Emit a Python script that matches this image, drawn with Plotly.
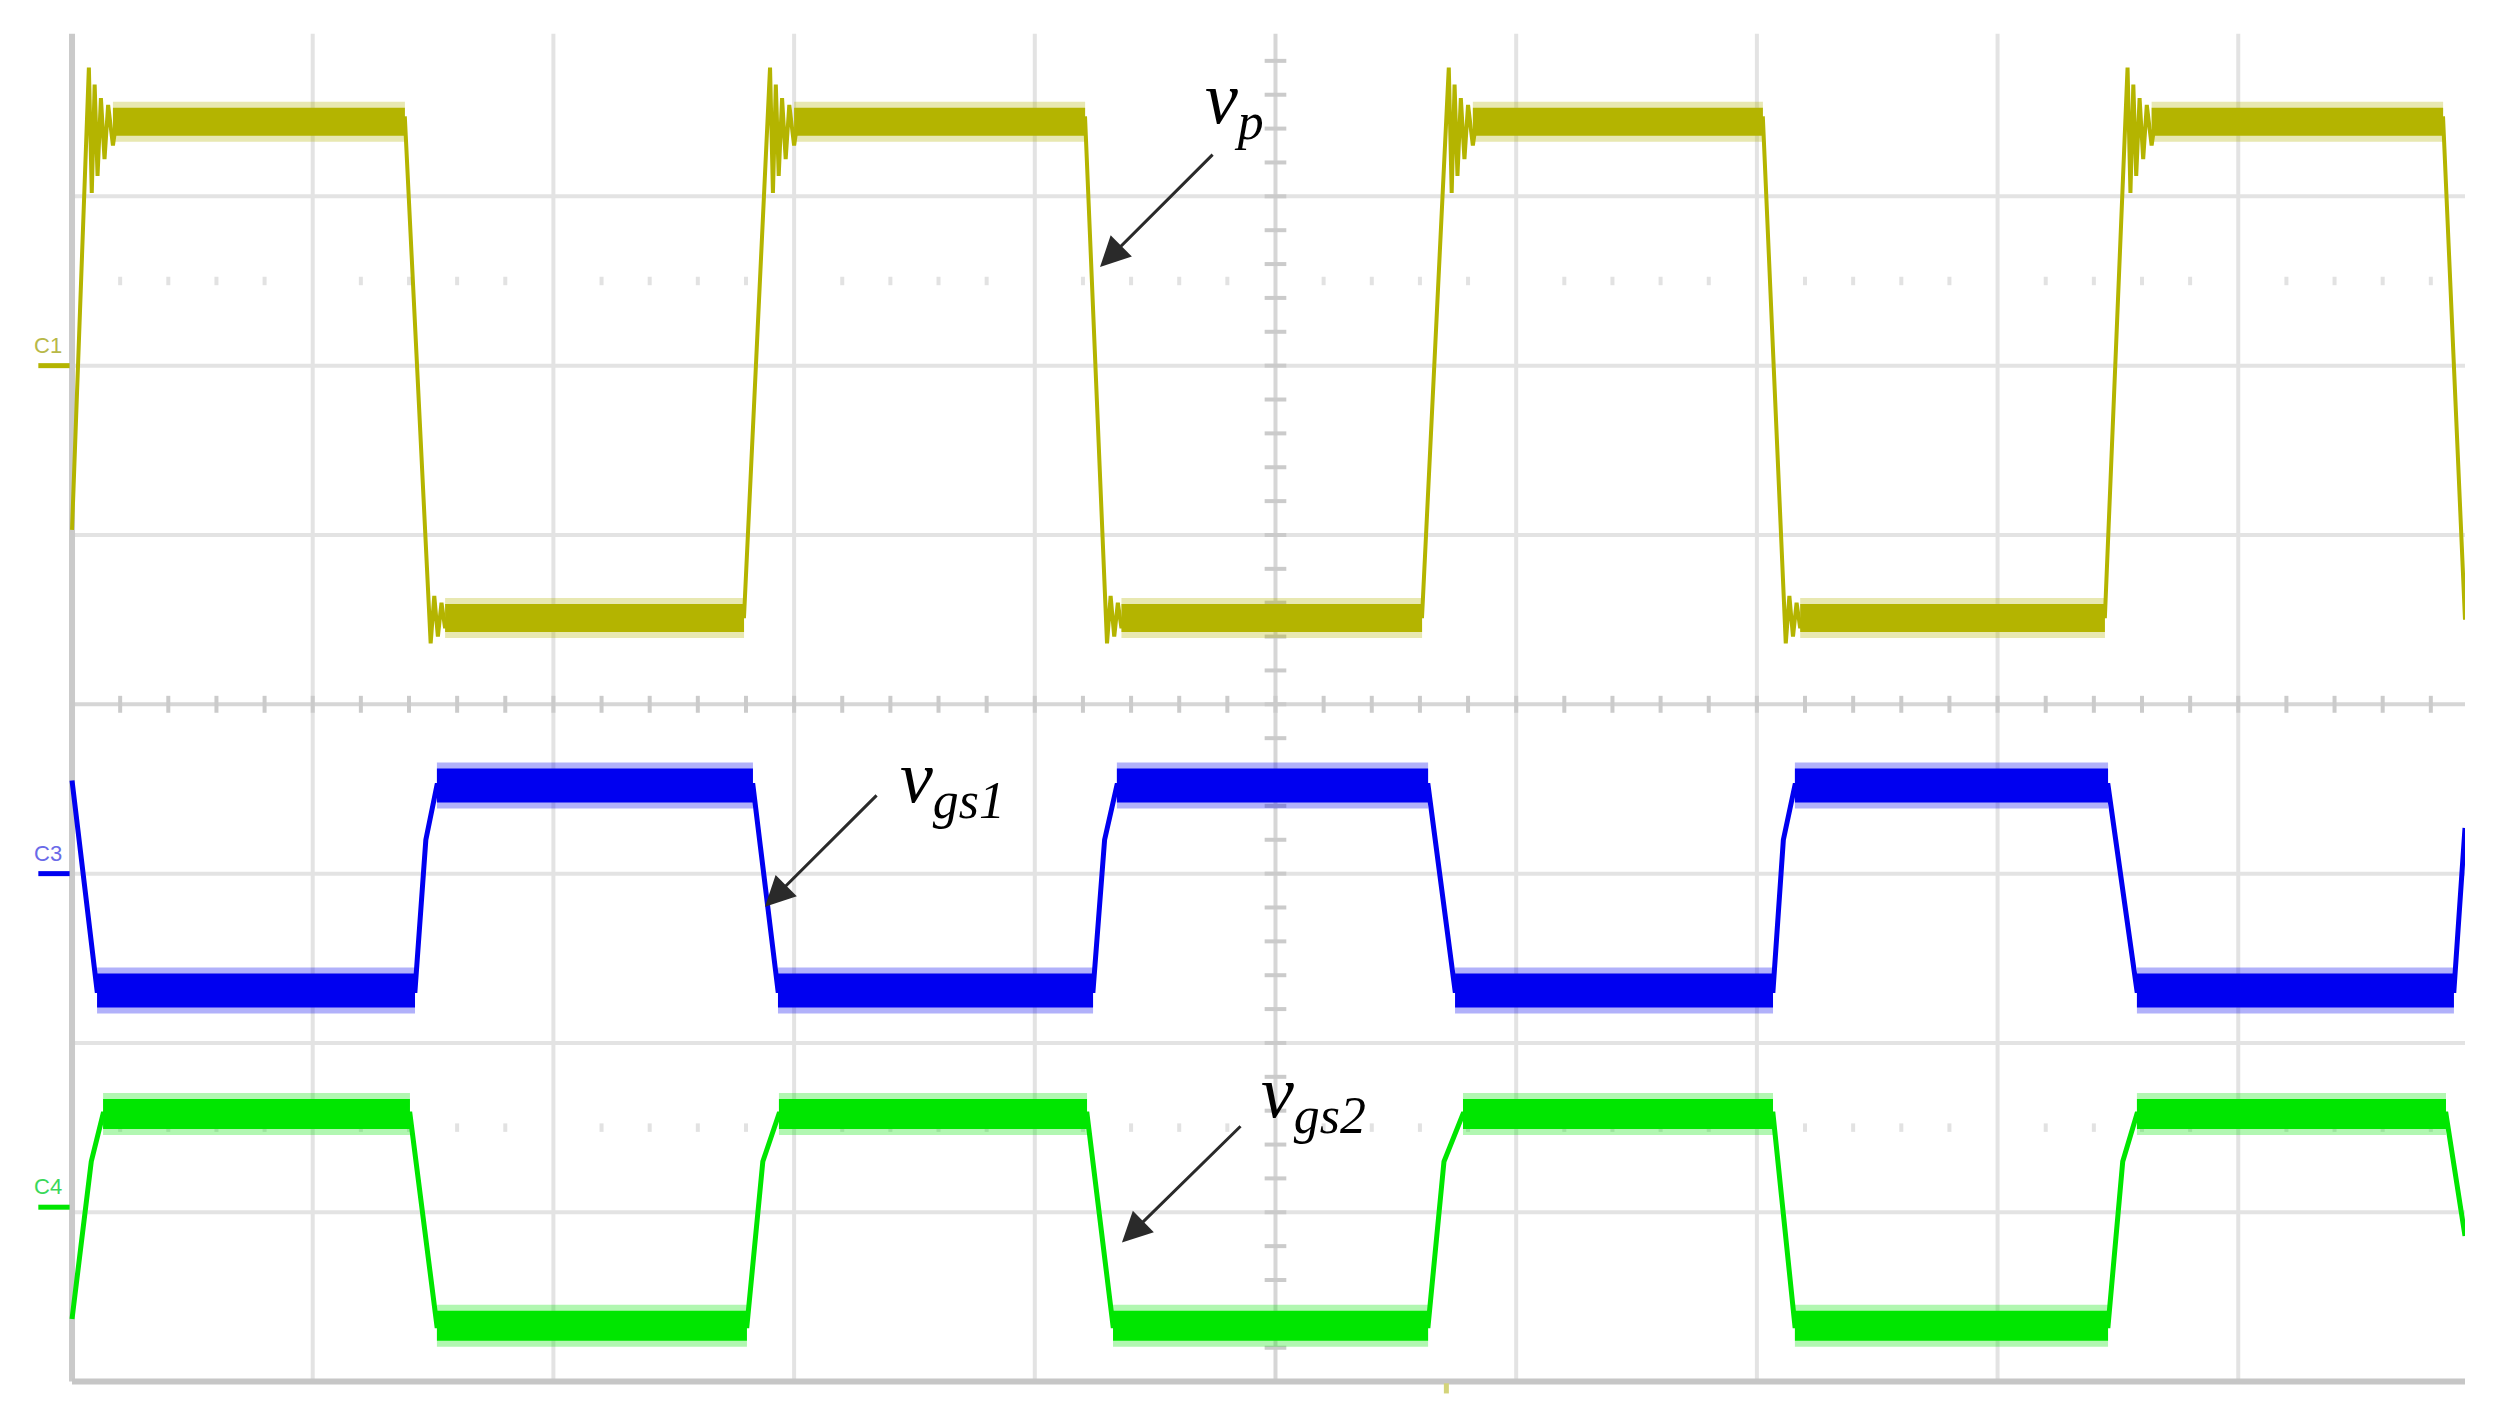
import plotly.graph_objects as go

# ---------------- data (time in divisions, voltage in divisions) ----------------
c1_time = [0.0,
           0.07, 0.082, 0.094, 0.106, 0.12, 0.135, 0.15, 0.17, 0.19, 0.22,
           1.383,
           1.49, 1.505, 1.52, 1.535, 1.55, 1.57, 1.59,
           2.792,
           2.90, 2.912, 2.924, 2.936, 2.95, 2.965, 2.98, 3.00, 3.02, 3.05,
           4.209,
           4.30, 4.315, 4.33, 4.345, 4.36, 4.38, 4.40,
           5.609,
           5.72, 5.732, 5.744, 5.756, 5.77, 5.785, 5.80, 5.82, 5.84, 5.87,
           7.025,
           7.12, 7.135, 7.15, 7.165, 7.18, 7.20, 7.22,
           8.446,
           8.54, 8.552, 8.564, 8.576, 8.59, 8.605, 8.62, 8.64, 8.66, 8.69,
           9.851, 9.942]
c1_volt = [5.03,
           7.76, 7.02, 7.66, 7.12, 7.58, 7.22, 7.54, 7.30, 7.50, 7.40,
           7.46,
           4.36, 4.64, 4.40, 4.60, 4.45, 4.56, 4.50,
           4.52,
           7.76, 7.02, 7.66, 7.12, 7.58, 7.22, 7.54, 7.30, 7.50, 7.40,
           7.46,
           4.36, 4.64, 4.40, 4.60, 4.45, 4.56, 4.50,
           4.52,
           7.76, 7.02, 7.66, 7.12, 7.58, 7.22, 7.54, 7.30, 7.50, 7.40,
           7.46,
           4.36, 4.64, 4.40, 4.60, 4.45, 4.56, 4.50,
           4.52,
           7.76, 7.02, 7.66, 7.12, 7.58, 7.22, 7.54, 7.30, 7.50, 7.40,
           7.46, 4.50]
c1_band_start = [0.17, 1.55, 3.00, 4.36, 5.82, 7.18, 8.64]
c1_band_end = [1.383, 2.792, 4.209, 5.609, 7.025, 8.446, 9.851]
c1_band_level = [7.44, 4.51, 7.44, 4.51, 7.44, 4.51, 7.44]

c3_time = [0.0, 0.104, 1.425, 1.47, 1.516, 2.829, 2.933, 4.242, 4.29, 4.341,
           5.634, 5.746, 7.067, 7.11, 7.158, 8.459, 8.579, 9.896, 9.942]
c3_volt = [3.55, 2.31, 2.31, 3.20, 3.52, 3.52, 2.31, 2.31, 3.20, 3.52,
           3.52, 2.31, 2.31, 3.20, 3.52, 3.52, 2.31, 2.31, 3.27]
c3_band_start = [0.104, 1.516, 2.933, 4.341, 5.746, 7.158, 8.579]
c3_band_end = [1.425, 2.829, 4.242, 5.634, 7.067, 8.459, 9.896]
c3_band_level = [2.31, 3.52, 2.31, 3.52, 2.31, 3.52, 2.31]

c4_time = [0.0, 0.08, 0.129, 1.404, 1.516, 2.804, 2.87, 2.937, 4.217, 4.325,
           5.634, 5.70, 5.779, 7.067, 7.158, 8.459, 8.52, 8.579, 9.863, 9.942]
c4_volt = [0.37, 1.30, 1.58, 1.58, 0.33, 0.33, 1.30, 1.58, 1.58, 0.33,
           0.33, 1.30, 1.58, 1.58, 0.33, 0.33, 1.30, 1.58, 1.58, 0.86]
c4_band_start = [0.129, 1.516, 2.937, 4.325, 5.779, 7.158, 8.579]
c4_band_end = [1.404, 2.804, 4.217, 5.634, 7.067, 8.459, 9.863]
c4_band_level = [1.58, 0.33, 1.58, 0.33, 1.58, 0.33, 1.58]

channel_names = ["C1", "C3", "C4"]
channel_ground = [6.0, 3.0, 1.03]

label_texts = ["<i>v</i><sub><i>p</i></sub>",
               "<i>v</i><sub><i>gs1</i></sub>",
               "<i>v</i><sub><i>gs2</i></sub>"]
label_x = [4.70, 3.43, 4.93]
label_y = [7.55, 3.54, 1.68]
arrow_tail_x = [4.745, 3.349, 4.861]
arrow_tail_y = [7.255, 3.471, 1.517]
arrow_head_x = [4.271, 2.879, 4.362]
arrow_head_y = [6.582, 2.804, 0.821]

# ---------------- layout constants ----------------
X_MIN, X_MAX = -0.266, 9.942
Y_MIN, Y_MAX = -0.15, 8.0
GRID_TOP = 7.96
N_XDIV, N_YDIV = 10, 8

C1_COL = "#b4b400"
C3_COL = "#0000f0"
C4_COL = "#00e600"

fig = go.Figure()


def band_xy(starts, ends, levels):
    xs, ys = [], []
    for s, e, l in zip(starts, ends, levels):
        xs += [s, e, None]
        ys += [l, l, None]
    return xs, ys


def add_channel(t, v, bs, be, bl, col, edge_w, band_w):
    bx, by = band_xy(bs, be, bl)
    fig.add_trace(go.Scatter(x=bx, y=by, mode="lines", opacity=0.3,
                             line=dict(color=col, width=band_w + 12),
                             hoverinfo="skip", showlegend=False))
    fig.add_trace(go.Scatter(x=t, y=v, mode="lines",
                             line=dict(color=col, width=edge_w),
                             hoverinfo="skip", showlegend=False))
    fig.add_trace(go.Scatter(x=bx, y=by, mode="lines",
                             line=dict(color=col, width=band_w),
                             hoverinfo="skip", showlegend=False))


# ---------------- grid ----------------
shapes = []
grid_col = "#e3e3e3"
for i in range(1, N_XDIV):
    if i == 5:
        continue
    shapes.append(dict(type="line", xref="x", yref="y", x0=i, x1=i, y0=0, y1=GRID_TOP,
                       line=dict(color=grid_col, width=4), layer="below"))
for j in range(1, N_YDIV):
    if j == 4:
        continue
    shapes.append(dict(type="line", xref="x", yref="y", x0=0, x1=X_MAX, y0=j, y1=j,
                       line=dict(color=grid_col, width=4), layer="below"))
# centre lines
shapes.append(dict(type="line", xref="x", yref="y", x0=5, x1=5, y0=0, y1=GRID_TOP,
                   line=dict(color="#d6d6d6", width=4), layer="below"))
shapes.append(dict(type="line", xref="x", yref="y", x0=0, x1=X_MAX, y0=4, y1=4,
                   line=dict(color="#d6d6d6", width=4), layer="below"))
# borders
shapes.append(dict(type="line", xref="x", yref="y", x0=0, x1=0, y0=0, y1=GRID_TOP,
                   line=dict(color="#cacaca", width=6), layer="below"))
shapes.append(dict(type="line", xref="x", yref="y", x0=0, x1=X_MAX, y0=0, y1=0,
                   line=dict(color="#c6c6c6", width=6), layer="below"))
# channel ground markers
for g, col in zip(channel_ground, [C1_COL, C3_COL, C4_COL]):
    shapes.append(dict(type="line", xref="x", yref="y", x0=-0.14, x1=-0.01, y0=g, y1=g,
                       line=dict(color=col, width=5), layer="above"))
# trigger marker
shapes.append(dict(type="line", xref="x", yref="y", x0=5.71, x1=5.71, y0=-0.01, y1=-0.07,
                   line=dict(color="#d4d47a", width=5), layer="above"))

# minor ticks on centre lines
tx, ty = [], []
k = 1
while 0.2 * k < X_MAX:
    xv = round(0.2 * k, 2)
    tx += [xv, xv, None]
    ty += [3.95, 4.05, None]
    k += 1
k = 1
while 0.2 * k < GRID_TOP:
    yv = round(0.2 * k, 2)
    tx += [4.955, 5.045, None]
    ty += [yv, yv, None]
    k += 1
fig.add_trace(go.Scatter(x=tx, y=ty, mode="lines", line=dict(color="#cbcbcb", width=4),
                         hoverinfo="skip", showlegend=False))

# faint dotted lines
dx, dy = [], []
for lev in [6.5, 1.5]:
    k = 1
    while 0.2 * k < X_MAX:
        if k % 5 != 0:
            dx += [round(0.2 * k, 2), round(0.2 * k, 2), None]
            dy += [lev - 0.025, lev + 0.025, None]
        k += 1
fig.add_trace(go.Scatter(x=dx, y=dy, mode="lines", line=dict(color="#e2e2e2", width=4),
                         hoverinfo="skip", showlegend=False))

# ---------------- channels ----------------
add_channel(c1_time, c1_volt, c1_band_start, c1_band_end, c1_band_level, C1_COL, 4, 28)
add_channel(c3_time, c3_volt, c3_band_start, c3_band_end, c3_band_level, C3_COL, 5, 34)
add_channel(c4_time, c4_volt, c4_band_start, c4_band_end, c4_band_level, C4_COL, 5, 30)

# ---------------- annotations ----------------
annotations = []
for name, g, col in zip(channel_names, channel_ground, ["#b8b848", "#6a6ae8", "#3ad85a"]):
    annotations.append(dict(x=-0.10, y=g + 0.12, xref="x", yref="y", text=name,
                            showarrow=False, font=dict(family="Liberation Sans", size=22, color=col)))
for i in range(3):
    annotations.append(dict(x=arrow_head_x[i], y=arrow_head_y[i], xref="x", yref="y",
                            ax=arrow_tail_x[i], ay=arrow_tail_y[i], axref="x", ayref="y",
                            text="", showarrow=True, arrowhead=2, arrowsize=2,
                            arrowwidth=3, arrowcolor="#2a2a2a", standoff=0, startstandoff=0))
    annotations.append(dict(x=label_x[i], y=label_y[i], xref="x", yref="y",
                            text=label_texts[i], showarrow=False, xanchor="left", yanchor="middle",
                            font=dict(family="Liberation Serif", size=74, color="#000000")))

fig.update_layout(
    width=2520, height=1419,
    margin=dict(l=0, r=63, t=19, b=20),
    paper_bgcolor="white", plot_bgcolor="white",
    xaxis=dict(range=[X_MIN, X_MAX], visible=False, showgrid=False, zeroline=False),
    yaxis=dict(range=[Y_MIN, Y_MAX], visible=False, showgrid=False, zeroline=False),
    shapes=shapes, annotations=annotations, showlegend=False,
)

fig.write_html("out.html")
